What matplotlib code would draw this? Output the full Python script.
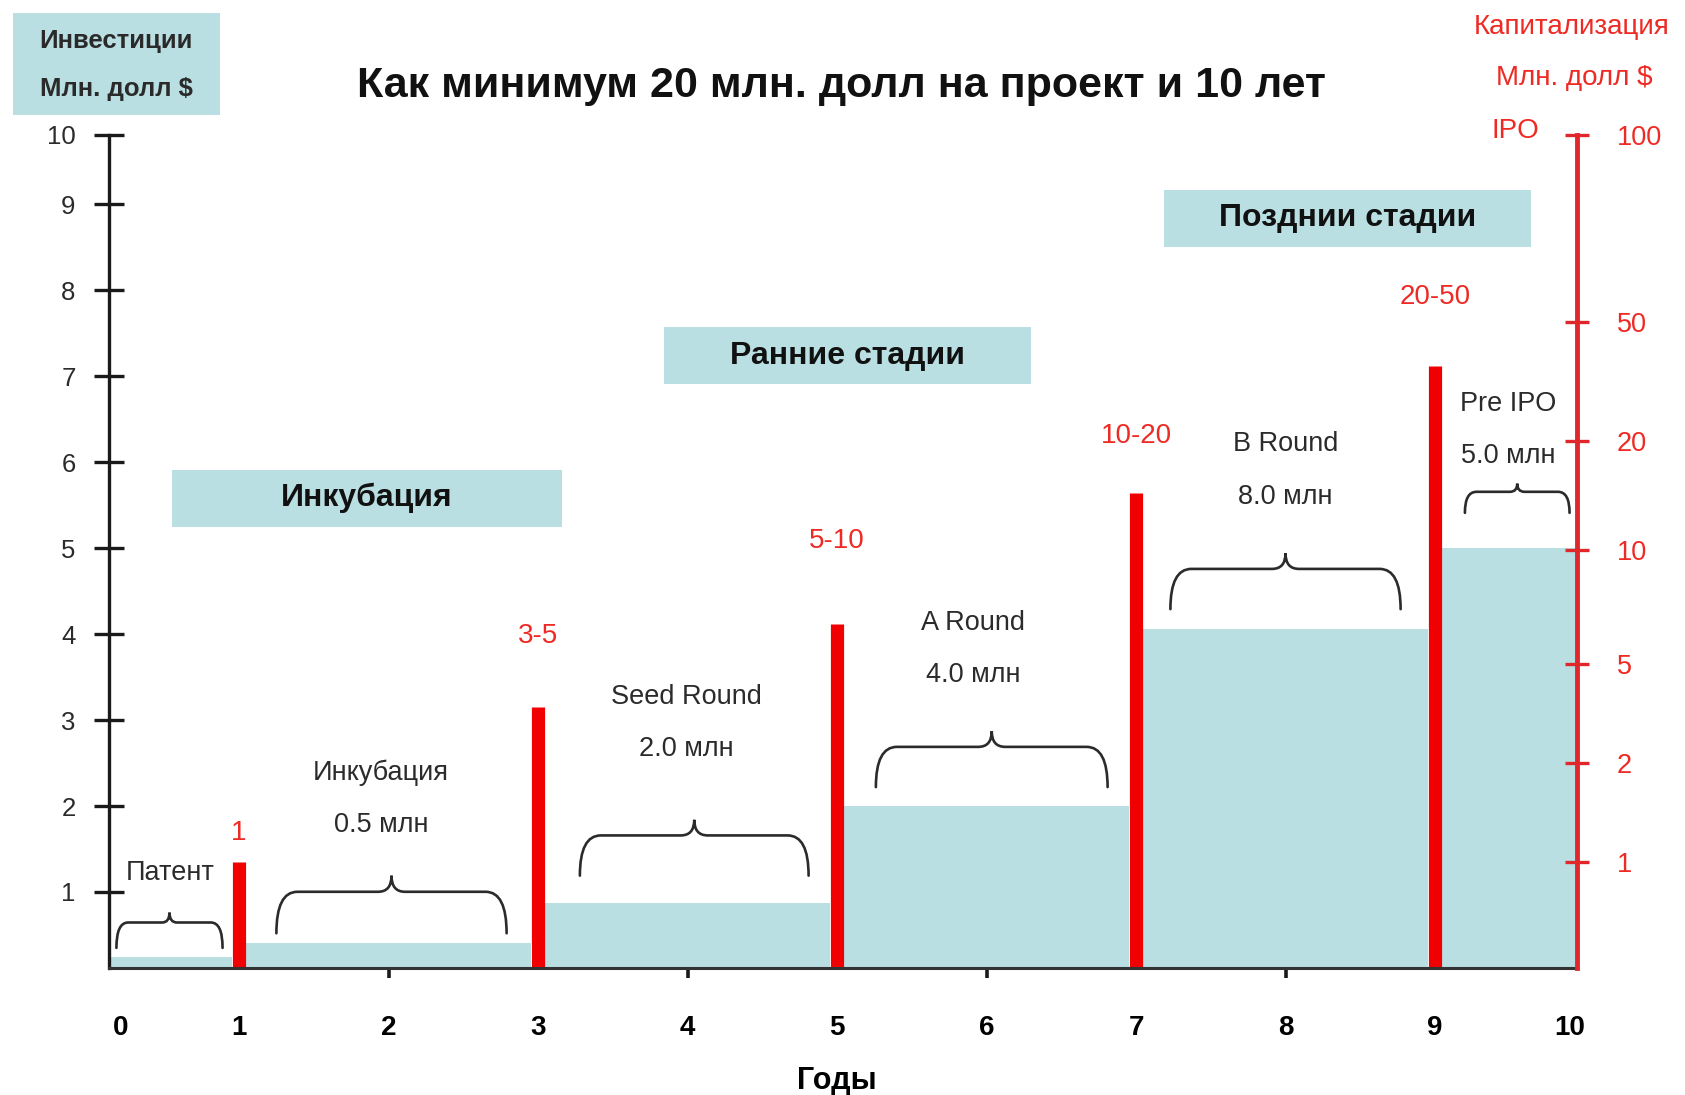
import numpy as np
import matplotlib
matplotlib.use("Agg")
import matplotlib.pyplot as plt
from matplotlib.patches import Rectangle, PathPatch
from matplotlib.path import Path

# ---------------- data ----------------
stage_names = ['Патент', 'Инкубация', 'Seed Round', 'A Round', 'B Round', 'Pre IPO']
stage_amounts = ['', '0.5 млн', '2.0 млн', '4.0 млн', '8.0 млн', '5.0 млн']
stage_start = [0, 1, 3, 5, 7, 9]
stage_end = [1, 3, 5, 7, 9, 10]
investment = [0.24, 0.41, 0.87, 2.0, 4.06, 5.0]          # left axis, млн долл

ipo_years = [1, 3, 5, 7, 9]
ipo_labels = ['1', '3-5', '5-10', '10-20', '20-50']
ipo_cap = [1.0, 3.35, 6.4, 14.4, 35.6]                    # capitalization, млн долл

year_labels = ['0', '1', '2', '3', '4', '5', '6', '7', '8', '9', '10']
left_tick_labels = ['1', '2', '3', '4', '5', '6', '7', '8', '9', '10']
cap_ticks = [1, 2, 5, 10, 20, 50, 100]

phase_names = ['Инкубация', 'Ранние стадии', 'Позднии стадии']

# ---------------- style ----------------
BLUE = '#b9dfe3'
RED = '#f00000'
RED_AX = '#e0282c'
RED_TXT = '#ee2a24'
DARK = '#2b2b2b'

plt.rcParams['font.family'] = ['Liberation Sans', 'DejaVu Sans']

fig = plt.figure(figsize=(16.85, 10.95), dpi=100)
ax = fig.add_axes([0.05312, 0.1163, 0.88724, 0.7608])
X_L, X_R = 0.13, 9.95
Y_B, Y_T = 0.12, 9.81
ax.set_xlim(0, 10)
ax.set_ylim(Y_B, Y_T)

# pseudo-log scale of the right (capitalization) axis, expressed in left-axis units
cap_pos = np.array([1.35, 2.5, 3.65, 4.975, 6.25, 7.625, 9.81])
lk = np.log10(cap_ticks)
def cap_to_y(v):
    return float(np.interp(np.log10(v), lk, cap_pos))

# investment bars
for s, e, h in zip(stage_start, stage_end, investment):
    x0 = max(s, X_L) + (0.05 if s in ipo_years else 0)
    x1 = min(e, X_R) - (0.05 if e in ipo_years else 0)
    ax.add_patch(Rectangle((x0, Y_B), x1 - x0, h - Y_B, facecolor=BLUE,
                           edgecolor='none', zorder=2))

# IPO capitalization markers
for yr, c in zip(ipo_years, ipo_cap):
    ax.plot([yr, yr], [Y_B, cap_to_y(c)], color=RED, lw=9.5, solid_capstyle='butt', zorder=4)
label_gap = [0.34, 0.83, 0.96, 0.66, 0.81]
for yr, c, lab, g in zip(ipo_years, ipo_cap, ipo_labels, label_gap):
    ax.text(yr, cap_to_y(c) + g, lab, color=RED_TXT, fontsize=20, ha='center', va='center', zorder=5)

# braces
def brace(x0, x1, yb, yt):
    yh = yb + 0.72 * (yt - yb)
    w = x1 - x0
    r = min(0.14, 0.11 * w)
    r2 = min(0.09, 0.07 * w)
    xm = 0.5 * (x0 + x1)
    verts = [(x0, yb), (x0, yh), (x0 + r, yh), (xm - r2, yh), (xm, yh), (xm, yt),
             (xm, yh), (xm + r2, yh), (x1 - r, yh), (x1, yh), (x1, yb)]
    codes = [Path.MOVETO, Path.CURVE3, Path.CURVE3, Path.LINETO, Path.CURVE3, Path.CURVE3,
             Path.CURVE3, Path.CURVE3, Path.LINETO, Path.CURVE3, Path.CURVE3]
    ax.add_patch(PathPatch(Path(verts, codes), fill=False, edgecolor=DARK, lw=1.9, zorder=5,
                           capstyle='round'))

brace_x = [(0.18, 0.89), (1.25, 2.79), (3.28, 4.81), (5.26, 6.81), (7.23, 8.77), (9.2, 9.9)]
brace_gap = [0.11, 0.11, 0.32, 0.22, 0.23, 0.41]
brace_h = [0.41, 0.67, 0.65, 0.65, 0.65, 0.34]
label_x = [0.54, 1.95, 3.99, 5.91, 8.0, 9.49]
label_gap2 = [0.46, 0.59, 0.82, 0.65, 0.66, 0.32]
LBL = 19.5
for i in range(len(stage_names)):
    yb = investment[i] + brace_gap[i]
    yt = yb + brace_h[i]
    brace(brace_x[i][0], brace_x[i][1], yb, yt)
    if stage_amounts[i]:
        ax.text(label_x[i], yt + label_gap2[i], stage_amounts[i], fontsize=LBL, color=DARK,
                ha='center', va='center', zorder=5)
        ax.text(label_x[i], yt + label_gap2[i] + 0.61, stage_names[i], fontsize=LBL, color=DARK,
                ha='center', va='center', zorder=5)
    else:
        ax.text(label_x[i], yt + label_gap2[i], stage_names[i], fontsize=LBL, color=DARK,
                ha='center', va='center', zorder=5)

# phase header boxes
phase_boxes = [(0.55, 3.16, 5.25, 5.91), (3.84, 6.30, 6.91, 7.57), (7.19, 9.64, 8.50, 9.17)]
for name, (x0, x1, y0, y1) in zip(phase_names, phase_boxes):
    ax.add_patch(Rectangle((x0, y0), x1 - x0, y1 - y0, facecolor=BLUE, edgecolor='none', zorder=3))
    ax.text((x0 + x1) / 2, (y0 + y1) / 2, name, fontsize=23, fontweight='bold', color='#111111',
            ha='center', va='center', zorder=4)

# axes styling
for sp in ['top', 'right']:
    ax.spines[sp].set_visible(False)
ax.spines['left'].set_position(('data', X_L))
ax.spines['left'].set_linewidth(2.4)
ax.spines['left'].set_color('#1a1a1a')
ax.spines['left'].set_zorder(6)
ax.spines['bottom'].set_bounds(X_L, X_R)
ax.spines['bottom'].set_linewidth(2.2)
ax.spines['bottom'].set_color('#333333')
ax.spines['bottom'].set_zorder(6)

ax.set_yticks(list(range(1, 10)) + [Y_T])
ax.set_yticklabels(left_tick_labels)
ax.tick_params(axis='y', direction='inout', length=22, width=2.4, color='#1a1a1a',
               labelsize=18.5, pad=13, labelcolor=DARK)

year_pos = [0.21, 1, 2, 3, 4, 5, 6, 7, 8, 9, 9.9]
ax.set_xticks(year_pos)
ax.set_xticklabels(year_labels)
ax.set_xticks([2, 4, 6, 8], minor=True)
ax.xaxis.remove_overlapping_locs = False
ax.tick_params(axis='x', which='major', length=0, pad=34, labelsize=20)
ax.tick_params(axis='x', which='minor', direction='out', length=7, width=2.6, color='#1a1a1a')
for t in ax.get_xticklabels():
    t.set_fontweight('bold')
ax.set_xlabel('Годы', fontsize=22, fontweight='bold', labelpad=18)

# right axis
ax2 = ax.twinx()
ax2.set_ylim(Y_B, Y_T)
for sp in ['top', 'left', 'bottom']:
    ax2.spines[sp].set_visible(False)
ax2.spines['right'].set_position(('data', X_R))
ax2.spines['right'].set_color(RED_AX)
ax2.spines['right'].set_linewidth(3.5)
ax2.set_yticks([cap_to_y(v) for v in cap_ticks])
ax2.set_yticklabels([str(v) for v in cap_ticks])
ax2.tick_params(axis='y', direction='inout', length=17, width=2.4, color=RED_AX,
                labelsize=19.5, pad=20, labelcolor=RED_TXT)

# titles and corner labels
fig.text(841 / 1685, 1 - 86 / 1095, 'Как минимум 20 млн. долл на проект и 10 лет',
         fontsize=31, fontweight='bold', ha='center', va='center', color='#111111')
fig.add_artist(Rectangle((13 / 1685, 1 - 115 / 1095), 207 / 1685, 102 / 1095,
                         transform=fig.transFigure, facecolor=BLUE, edgecolor='none'))
fig.text(116 / 1685, 1 - 41 / 1095, 'Инвестиции', fontsize=18.5, fontweight='bold',
         color='#2a2a2a', ha='center', va='center')
fig.text(116 / 1685, 1 - 89 / 1095, 'Млн. долл $', fontsize=18.5, fontweight='bold',
         color='#2a2a2a', ha='center', va='center')
fig.text(1572 / 1685, 1 - 27 / 1095, 'Капитализация', fontsize=20, color=RED_TXT, ha='center', va='center')
fig.text(1574 / 1685, 1 - 78 / 1095, 'Млн. долл $', fontsize=20, color=RED_TXT, ha='center', va='center')
fig.text(1515 / 1685, 1 - 131 / 1095, 'IPO', fontsize=20, color=RED_TXT, ha='center', va='center')

fig.savefig('out.png', dpi=100)
